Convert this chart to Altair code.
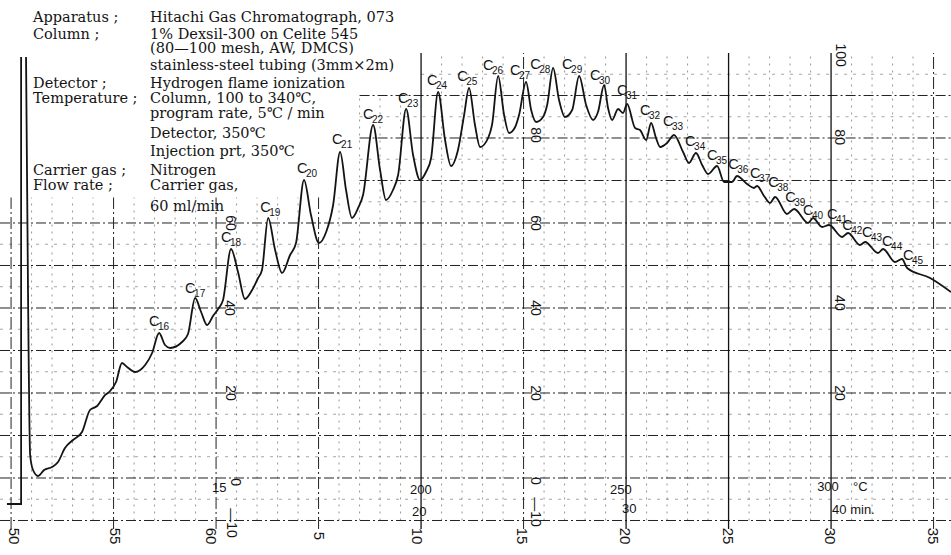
import altair as alt
import pandas as pd

# ---------------- data (chart-paper divisions / recorder response %) ----------------
trace_t = [-9.27, -9.17, -9.07, -8.93, -8.68, -8.39, -8.00, -7.71, -7.37, -6.98,
           -6.54, -6.15, -5.80, -5.41, -5.17, -4.88, -4.59, -4.34, -3.95, -3.46,
           -3.12, -2.78, -2.49, -2.24, -1.66, -1.37, -1.02, -0.73, -0.44, -0.15,
           0.10, 0.34, 0.73, 1.07, 1.41, 1.76, 2.05, 2.24, 2.54, 2.88,
           3.22, 3.61, 3.90, 4.29, 4.63, 5.02, 5.37, 5.71, 6.05, 6.34,
           6.63, 6.93, 7.17, 7.66, 8.00, 8.29, 8.63, 8.88, 9.27, 9.61,
           9.95, 10.24, 10.49, 10.83, 11.17, 11.46, 11.80, 12.10, 12.34, 12.63,
           12.88, 13.27, 13.46, 13.76, 14.05, 14.29, 14.59, 14.78, 15.12, 15.37,
           15.61, 15.95, 16.15, 16.44, 16.73, 17.02, 17.37, 17.71, 18.05, 18.39,
           18.63, 18.93, 19.12, 19.32, 19.61, 19.85, 20.05, 20.44, 20.68, 20.98,
           21.22, 21.46, 21.66, 22.00, 22.34, 22.78, 23.07, 23.41, 23.71, 24.00,
           24.44, 24.78, 25.17, 25.41, 25.90, 26.24, 26.39, 26.73, 27.02, 27.27,
           27.85, 28.20, 28.88, 29.12, 29.56, 29.90, 30.54, 30.83, 31.41, 31.66,
           32.29, 32.54, 33.12, 33.46, 33.71, 34.83, 35.85]
trace_r = [99.06, 41.88, 5.41, 1.88, 0.47, 1.88, 2.59, 3.76, 7.06, 8.94,
           10.82, 16.00, 16.94, 19.53, 20.47, 22.59, 27.06, 26.12, 24.94, 26.59,
           29.41, 34.12, 31.29, 30.59, 32.00, 33.88, 42.35, 39.06, 36.00, 38.12,
           39.76, 41.88, 53.88, 48.47, 42.12, 44.24, 47.06, 48.94, 61.18, 53.65,
           48.24, 52.47, 55.29, 70.12, 61.88, 55.29, 57.88, 64.24, 76.71, 67.76,
           61.18, 63.53, 66.59, 83.06, 72.47, 65.41, 67.76, 71.29, 86.82, 76.00,
           70.12, 72.00, 75.29, 90.82, 79.53, 73.41, 77.18, 85.41, 91.76, 83.06,
           77.88, 80.00, 83.06, 94.59, 85.41, 81.18, 82.59, 85.41, 93.18, 86.59,
           83.76, 84.94, 87.76, 96.47, 88.94, 84.94, 86.59, 94.59, 87.76, 84.24,
           86.12, 92.47, 87.06, 84.24, 86.82, 85.88, 88.00, 82.35, 81.88, 79.53,
           83.53, 80.00, 77.88, 78.82, 80.71, 76.71, 74.12, 76.47, 73.65, 71.53,
           73.41, 69.65, 69.65, 71.06, 69.18, 68.24, 68.71, 66.35, 64.71, 66.12,
           62.12, 63.29, 60.00, 61.18, 59.06, 59.53, 56.71, 57.65, 54.82, 55.53,
           52.94, 53.88, 50.82, 51.53, 49.41, 47.06, 43.76]

inject_t = [-10.20, -9.51, -9.51]
inject_r = [-6.12, -6.12, 99.06]

peak_num = [str(n) for n in range(16, 46)]
peak_t = [-3.27, -1.51, 0.24, 2.15, 3.95, 5.66, 7.17, 8.88, 10.29, 11.76,
          13.02, 14.34, 15.32, 16.88, 18.24, 19.56, 20.68, 21.80, 22.88, 23.95,
          24.98, 26.05, 26.93, 27.76, 28.63, 29.80, 30.54, 31.51, 32.49, 33.51]
peak_r = [36.47, 44.24, 56.24, 63.29, 72.47, 79.29, 85.18, 88.94, 93.18, 94.12,
          96.71, 95.53, 96.94, 96.94, 94.35, 90.82, 86.12, 83.53, 78.82, 75.53,
          73.41, 71.29, 69.18, 65.65, 62.59, 61.65, 59.06, 57.41, 55.29, 52.00]

head_left = ["Apparatus ;", "Column ;", "Detector ;", "Temperature ;", "Carrier gas ;", "Flow rate ;"]
head_left_row = [0, 1, 4, 5, 9, 10]
head_right = ["Hitachi Gas Chromatograph, 073", "1% Dexsil-300 on Celite 545",
              "(80\u2014100 mesh, AW, DMCS)", "stainless-steel tubing (3mm\u00d72m)",
              "Hydrogen flame ionization", "Column, 100 to 340\u2103,",
              "program rate, 5\u2103 / min", "Detector, 350\u2103",
              "Injection prt, 350\u2103", "Nitrogen", "Carrier gas,", "60 ml/min"]
head_row_r = [108.16, 104.31, 100.94, 96.94, 92.70, 89.18, 85.65, 80.94, 76.71, 72.24, 68.71, 63.76]
head_left_t = -8.93
head_right_t = -3.22

scale_text = ["60", "40", "20", "0", "\u201410",
              "80", "60", "40", "20", "0", "\u201410",
              "100", "80", "40", "20"]
scale_t = [0.68, 0.65, 0.68, 0.90, 0.75,
           15.56, 15.56, 15.56, 15.56, 15.56, 15.56,
           30.44, 30.40, 30.40, 30.40]
scale_r = [60, 40, 20, -1.0, -10.6,
           80.7, 60, 40, 20, -0.7, -8.0,
           99.5, 80.2, 41.2, 20]

bottom_text = ["50", "55", "60", "5", "10", "15", "20", "25", "30", "35"]
bottom_t = [-9.85, -4.95, -0.25, 5.0, 9.8, 14.9, 19.95, 24.95, 29.95, 34.95]
bottom_r = -13.65

temp_text = ["15", "200", "20", "250", "30", "300", "\u00b0C", "40 min."]
temp_t = [-0.20, 9.46, 9.56, 19.22, 19.80, 29.32, 31.07, 30.05]
temp_r = [-2.35, -2.82, -8.0, -2.82, -7.3, -2.1, -2.1, -7.5]

grid_cols = list(range(-10, 36))
solid_cols = [10, 20, 25, 30]
grid_rows_major = list(range(-10, 91, 10))
grid_rows_minor = list(range(-5, 96, 10))

# ---------------- tables ----------------
T0, T1 = -10.54, 35.85
R0, R1 = -18.12, 112.47

trace = pd.DataFrame({"t": trace_t, "r": trace_r, "o": range(len(trace_t))})
inject = pd.DataFrame({"t": inject_t, "r": inject_r, "o": range(len(inject_t))})
peaks = pd.DataFrame({"t": peak_t, "r": peak_r, "n": peak_num})
hl = pd.DataFrame({"t": [head_left_t] * len(head_left),
                   "r": [head_row_r[i] for i in head_left_row], "s": head_left})
hr = pd.DataFrame({"t": [head_right_t] * len(head_right), "r": head_row_r, "s": head_right})
sc = pd.DataFrame({"t": scale_t, "r": scale_r, "s": scale_text})
bt = pd.DataFrame({"t": bottom_t, "r": [bottom_r] * len(bottom_t), "s": bottom_text})
tp = pd.DataFrame({"t": temp_t, "r": temp_r, "s": temp_text})


def col_top(u):
    if u < 7:
        return 66
    if u < 10:
        return 90
    return 100


vmin, vmaj, vsol = [], [], []
for u in grid_cols:
    if u in solid_cols:
        vsol.append({"t": u, "r": -12, "r2": col_top(u)})
    elif u % 5 == 0:
        vmaj.append({"t": u, "r": -12, "r2": col_top(u)})
    else:
        vmin.append({"t": u, "r": -10, "r2": col_top(u)})


def row_start(v):
    if v <= 60:
        return T0
    if v <= 90:
        return 7
    return 10


hmaj = pd.DataFrame([{"r": v, "t": row_start(v), "t2": T1} for v in grid_rows_major])
hmin = pd.DataFrame([{"r": v, "t": row_start(v), "t2": T1} for v in grid_rows_minor])

X = alt.Scale(domain=[T0, T1], nice=False, zero=False)
Y = alt.Scale(domain=[R0, R1], nice=False, zero=False)
x = alt.X("t:Q", scale=X, axis=None)
y = alt.Y("r:Q", scale=Y, axis=None)

INK = "#141414"

vmin_l = alt.Chart(pd.DataFrame(vmin)).mark_rule(
    color="#444", strokeWidth=0.8, strokeDash=[2, 5], opacity=0.7
).encode(x=x, y=y, y2="r2:Q")
vmaj_l = alt.Chart(pd.DataFrame(vmaj)).mark_rule(
    color="#222", strokeWidth=1, strokeDash=[12, 3, 2, 3]
).encode(x=x, y=y, y2="r2:Q")
vsol_l = alt.Chart(pd.DataFrame(vsol)).mark_rule(
    color="#111", strokeWidth=1.3
).encode(x=x, y=y, y2="r2:Q")
hmaj_l = alt.Chart(hmaj).mark_rule(
    color="#222", strokeWidth=1, strokeDash=[10, 3, 2, 3]
).encode(y=y, x=x, x2="t2:Q")
hmin_l = alt.Chart(hmin).mark_rule(
    color="#444", strokeWidth=0.8, strokeDash=[3, 6], opacity=0.6
).encode(y=y, x=x, x2="t2:Q")

trace_l = alt.Chart(trace).mark_line(
    color=INK, strokeWidth=1.8, interpolate="monotone"
).encode(x=x, y=y, order="o:Q")
inject_l = alt.Chart(inject).mark_line(
    color=INK, strokeWidth=1.8
).encode(x=x, y=y, order="o:Q")

c_l = alt.Chart(peaks).mark_text(
    text="C", align="left", baseline="middle", font="Liberation Sans", fontSize=14.5, color=INK, dy=-1
).encode(x=x, y=y)
n_l = alt.Chart(peaks).mark_text(
    align="left", baseline="middle", font="Liberation Sans", fontSize=10, color=INK, dx=9, dy=4
).encode(x=x, y=y, text="n:N")

hl_l = alt.Chart(hl).mark_text(
    align="left", baseline="middle", font="DejaVu Serif", fontSize=14.5, color=INK
).encode(x=x, y=y, text="s:N")
hr_l = alt.Chart(hr).mark_text(
    align="left", baseline="middle", font="DejaVu Serif", fontSize=14.5, color=INK
).encode(x=x, y=y, text="s:N")

sc_l = alt.Chart(sc).mark_text(
    angle=90, align="center", baseline="middle", font="Liberation Sans", fontSize=14, color=INK
).encode(x=x, y=y, text="s:N")
bt_l = alt.Chart(bt).mark_text(
    angle=90, align="center", baseline="middle", font="Liberation Sans", fontSize=15, color=INK
).encode(x=x, y=y, text="s:N")
tp_l = alt.Chart(tp).mark_text(
    align="left", baseline="middle", font="Liberation Sans", fontSize=13, color=INK
).encode(x=x, y=y, text="s:N")

chart = alt.layer(
    vmin_l, hmin_l, vmaj_l, hmaj_l, vsol_l,
    inject_l, trace_l, c_l, n_l, hl_l, hr_l, sc_l, bt_l, tp_l
).properties(
    width=951, height=555, padding=0, autosize=alt.AutoSizeParams(type="none"),
    background="white"
).configure_view(stroke=None)

chart.save("out.html", embed_options={"renderer": "svg", "actions": False})
